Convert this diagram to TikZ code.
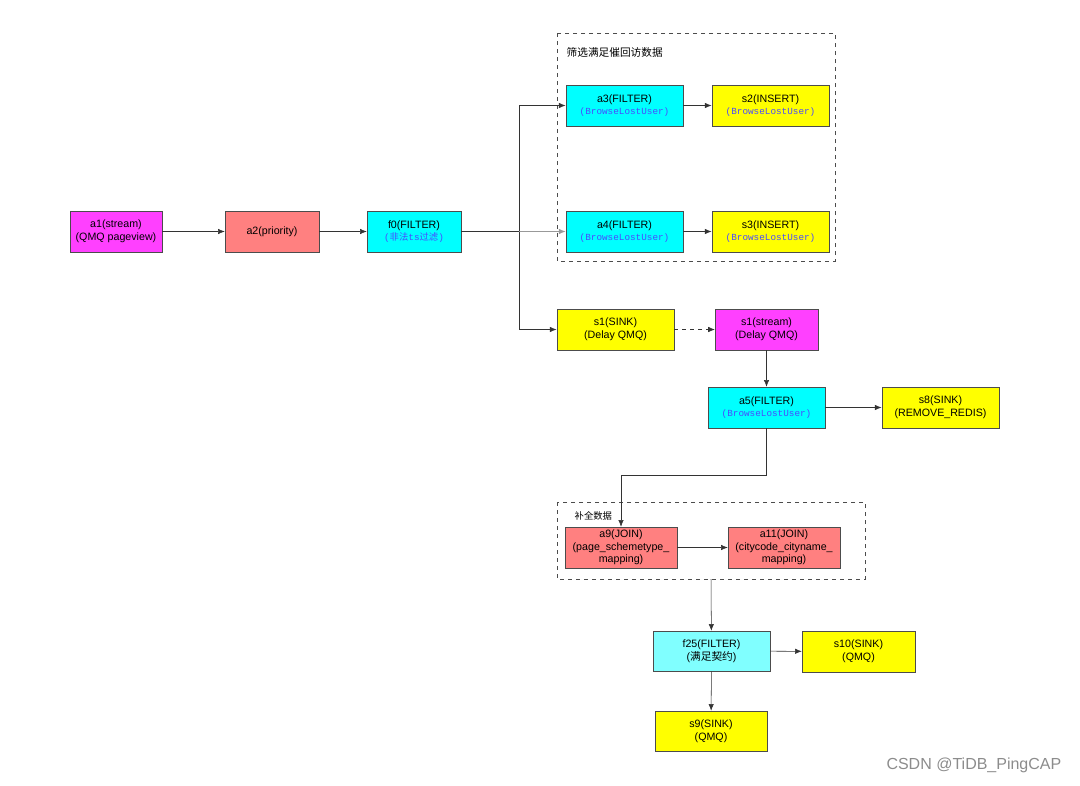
\documentclass[tikz,border=0pt]{standalone}
\usepackage{fontspec}
\setmainfont{Liberation Sans}
\newfontfamily\cjk{Noto Sans CJK SC}
\newfontfamily\codefont{Liberation Mono}
\usetikzlibrary{arrows.meta}
\newcommand{\sub}[1]{{\color{subblue}\codefont\scriptsize #1}}
\definecolor{subblue}{HTML}{4A4AFF}
\definecolor{pinkbox}{HTML}{FF40FF}
\definecolor{redbox}{HTML}{FF8080}
\definecolor{cyanbox}{HTML}{00FFFF}
\definecolor{lightcyan}{HTML}{80FFFF}
\definecolor{yellowbox}{HTML}{FFFF00}
\begin{document}
\begin{tikzpicture}[x=0.75pt,y=-0.75pt,
			box/.style = {rectangle,draw=black!70,minimum width=88pt,minimum height=30.75pt,align=center,font=\footnotesize,inner sep=1pt},
			group/.style = {draw=black!70,dashed},
			flow/.style = {-{Latex[length=5pt,width=4pt]},black!80}]
\useasboundingbox (0,0) rectangle (1080,785);

\node[box,fill=pinkbox,minimum width=69pt] (a1) at (116,231.5) {a1(stream)\\(QMQ pageview)};
\node[box,fill=redbox,minimum width=70.5pt] (a2) at (272,231.5) {a2(priority)};
\node[box,fill=cyanbox,minimum width=70.5pt] (f0) at (414,231.5) {f0(FILTER)\\\sub{({\cjk 非法}ts{\cjk 过滤})}};

\draw[group] (557,33) rectangle (835,261);
\node[font=\footnotesize\cjk,anchor=west] (g1) at (562,52) {筛选满足催回访数据};
\node[box,fill=cyanbox] (a3) at (624.5,105.5) {a3(FILTER)\\\sub{(BrowseLostUser)}};
\node[box,fill=yellowbox] (s2) at (770.5,105.5) {s2(INSERT)\\\sub{(BrowseLostUser)}};
\node[box,fill=cyanbox] (a4) at (624.5,231.5) {a4(FILTER)\\\sub{(BrowseLostUser)}};
\node[box,fill=yellowbox] (s3) at (770.5,231.5) {s3(INSERT)\\\sub{(BrowseLostUser)}};

\node[box,fill=yellowbox] (s1) at (615.5,329.5) {s1(SINK)\\(Delay QMQ)};
\node[box,fill=pinkbox,minimum width=77pt] (s1s) at (766.5,329.5) {s1(stream)\\(Delay QMQ)};
\node[box,fill=cyanbox] (a5) at (766.5,407.5) {a5(FILTER)\\\sub{(BrowseLostUser)}};
\node[box,fill=yellowbox] (s8) at (940.5,407.5) {s8(SINK)\\(REMOVE\_REDIS)};

\draw[group] (557,502) rectangle (865,579);
\node[font=\scriptsize\cjk,anchor=west] (g2) at (570,516) {补全数据};
\node[box,fill=redbox,minimum width=84pt] (a9) at (621,547.5) {a9(JOIN)\\(page\_schemetype\_\\mapping)};
\node[box,fill=redbox,minimum width=84pt] (a11) at (784,547.5) {a11(JOIN)\\(citycode\_cityname\_\\mapping)};

\node[box,fill=lightcyan,minimum height=30pt] (f25) at (711.5,651) {f25(FILTER)\\({\cjk 满足契约})};
\node[box,fill=yellowbox,minimum width=84.75pt] (s10) at (858.5,651.5) {s10(SINK)\\(QMQ)};
\node[box,fill=yellowbox,minimum width=84pt,minimum height=30pt] (s9) at (711,731) {s9(SINK)\\(QMQ)};

\coordinate (j) at (519,231.5);
\coordinate (g2b) at (711,579);

\draw[flow] (a1) -- (a2);
\draw[flow] (a2) -- (f0);
\draw[black!80] (f0) -- (j);
\draw[flow] (j) |- (a3);
\draw[flow,black!40] (j) -- (a4);
\draw[flow] (j) |- (s1);
\draw[flow] (a3) -- (s2);
\draw[flow] (a4) -- (s3);
\draw[flow,dashed] (s1) -- (s1s);
\draw[flow] (s1s) -- (a5);
\draw[flow] (a5) -- (s8);
\draw[flow] (a5.south) |- (621,475) -- (a9.north);
\draw[flow] (a9) -- (a11);
\draw[flow] (g2b) -- (f25);
\draw[flow] (f25) -- (s10);
\draw[flow] (f25) -- (s9);

\node[text=black!45,font=\large,anchor=east] (wm) at (1066,765) {CSDN @TiDB\_PingCAP};

\end{tikzpicture}
\end{document}
